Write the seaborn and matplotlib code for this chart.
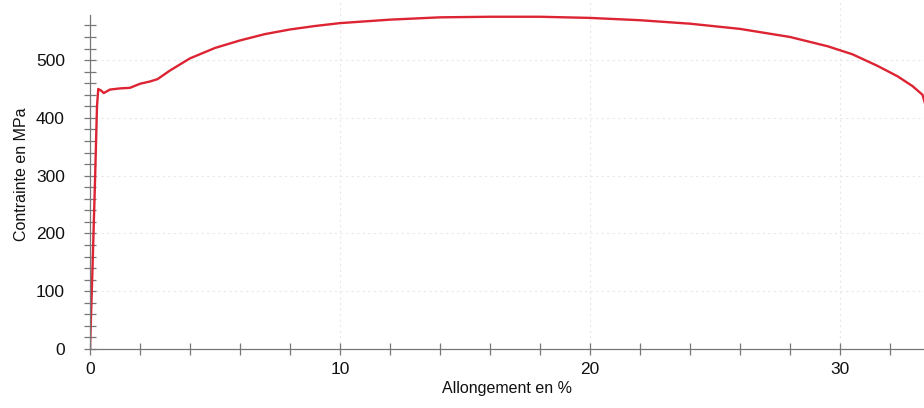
import matplotlib
matplotlib.use("Agg")
import matplotlib.pyplot as plt
import seaborn as sns
import pandas as pd
from matplotlib.ticker import MultipleLocator, FixedLocator

# Data
allongement = [0.0, 0.1, 0.2, 0.28, 0.33, 0.45, 0.55, 0.8, 1.2, 1.6, 2.0, 2.4, 2.7,
               3.2, 4.0, 5.0, 6.0, 7.0, 8.0, 9.0, 10.0, 12.0, 14.0, 16.0, 18.0,
               20.0, 22.0, 24.0, 26.0, 28.0, 29.5, 30.5, 31.5, 32.3, 32.9, 33.3, 33.4]
contrainte = [0, 140, 290, 420, 450, 447, 443, 449, 451, 452, 459, 463, 467,
              482, 503, 521, 534, 545, 553, 559, 564, 570, 574, 575, 575,
              573, 569, 563, 554, 540, 524, 510, 490, 472, 455, 440, 425]
y_ticks = [0, 100, 200, 300, 400, 500]
x_ticks = [0, 10, 20, 30]

df = pd.DataFrame({"Allongement en %": allongement, "Contrainte en MPa": contrainte})

sns.set_style("white")
plt.rcParams['font.family'] = ['Liberation Sans', 'DejaVu Sans']

fig = plt.figure(figsize=(9.24, 4.08), dpi=100)
ax = fig.add_axes([90/924, 59/408, 1 - 90/924, 1 - 59/408])

sns.lineplot(data=df, x="Allongement en %", y="Contrainte en MPa", sort=False,
             color="#dc2433", linewidth=1.7, ax=ax, estimator=None)

ax.set_xlim(0, 33.36)
ax.set_ylim(0, 604)

# faint dotted grid
for yv in y_ticks[1:]:
    ax.axhline(yv, color="#e8e8e8", lw=0.8, ls=(0, (2, 3)), zorder=0)
for xv in x_ticks[1:]:
    ax.axvline(xv, color="#e8e8e8", lw=0.8, ls=(0, (2, 3)), zorder=0)

ax.yaxis.set_major_locator(FixedLocator(y_ticks))
ax.yaxis.set_minor_locator(FixedLocator([v for v in range(20, 580, 20) if v % 100]))
ax.xaxis.set_major_locator(FixedLocator(x_ticks))
ax.xaxis.set_minor_locator(MultipleLocator(2))

for s in ["top", "right"]:
    ax.spines[s].set_visible(False)
ax.spines["left"].set_color("#777777")
ax.spines["bottom"].set_color("#777777")
ax.spines["left"].set_linewidth(0.9)
ax.spines["bottom"].set_linewidth(0.9)
ax.spines["left"].set_bounds(0, 578)

ax.tick_params(axis="both", which="both", direction="inout", color="#777777",
               width=0.9, bottom=True, left=True, labelcolor="#111111")
ax.tick_params(axis="y", which="major", length=8, pad=14, labelsize=12.5)
ax.tick_params(axis="y", which="minor", length=8)
ax.tick_params(axis="x", which="major", length=9, pad=5, labelsize=12.5)
ax.tick_params(axis="x", which="minor", length=9)

ax.set_xlabel("Allongement en %", fontsize=11.5, labelpad=3, color="#111111")
ax.set_ylabel("Contrainte en MPa", fontsize=11.5, labelpad=5, color="#111111")

fig.savefig("out.png", dpi=100)
